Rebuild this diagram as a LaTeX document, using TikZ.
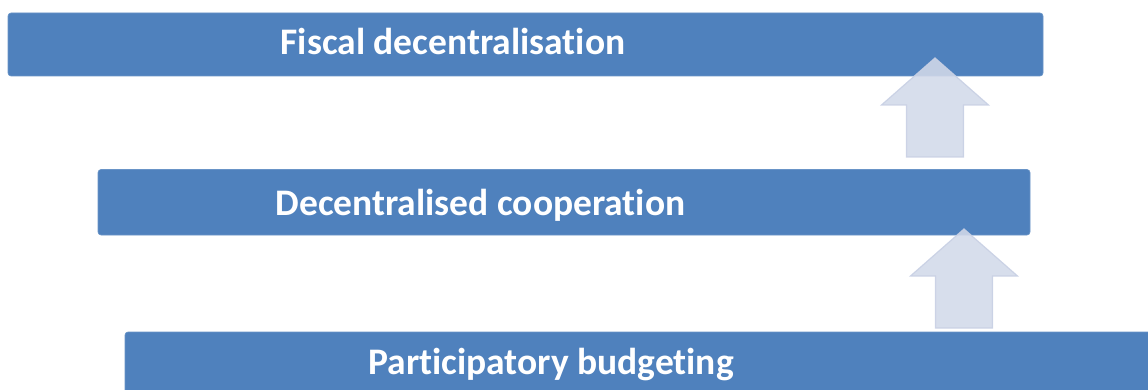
\documentclass[tikz,border=0pt]{standalone}
\usepackage{fontspec}
\setmainfont{Carlito}[Ligatures=NoCommon]
\usepackage{xcolor}
\usetikzlibrary{positioning}
\definecolor{barblue}{RGB}{79,129,189}
\definecolor{arrowfill}{RGB}{210,217,233}
\definecolor{arrowedge}{RGB}{200,208,228}
\tikzset{
  bar/.style={fill=barblue,draw=barblue!85!white,line width=0.6pt,rounded corners=3pt,inner sep=0pt},
  bartext/.style={font=\fontsize{37.5}{44}\selectfont\bfseries,text=white,anchor=base,inner sep=0pt},
  uparrow/.style={fill=arrowfill,draw=arrowedge,line width=1.2pt,fill opacity=0.88,draw opacity=0.9}
}
\newcommand{\blockarrow}[1]{%
  \draw[uparrow,shift={#1}] (0,0) -- (53.5,47) -- (28.5,47) -- (28.5,99)
    -- (-28.5,99) -- (-28.5,47) -- (-53.5,47) -- cycle;}
\begin{document}
\begin{tikzpicture}[x=1pt,y=-1pt]
  \useasboundingbox (0,0) rectangle (1148,390);
  \clip (0,0) rectangle (1148,390);
  % three levels
  \node[bar,minimum width=1035pt,minimum height=63pt] (fiscal) at (525.5,44.5) {};
  \node[bar,minimum width=932pt,minimum height=65.5pt] (coop) at (564,202.25) {};
  \node[bar,minimum width=1040pt,minimum height=70pt] (budget) at (645,367) {};
  \node[bartext] (fiscaltext) at (453,55) {Fiscal decentralisation};
  \node[bartext] (cooptext) at (480.5,215) {Decentralised cooperation};
  \node[bartext] (budgettext) at (551,374) {Participatory budgeting};
  % block arrows between levels
  \blockarrow{(935,58)}
  \blockarrow{(964,229)}
\end{tikzpicture}
\end{document}
